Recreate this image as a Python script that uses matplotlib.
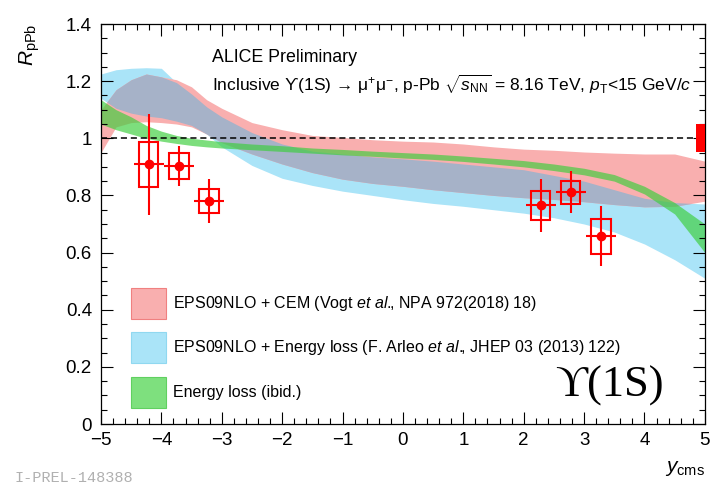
import numpy as np
import matplotlib
matplotlib.use('Agg')
import matplotlib.pyplot as plt
from matplotlib.patches import Rectangle, Patch

plt.rcParams['font.family'] = ['Liberation Sans', 'DejaVu Sans']
plt.rcParams['mathtext.fontset'] = 'custom'
plt.rcParams['mathtext.rm'] = 'Liberation Sans'
plt.rcParams['mathtext.it'] = 'Liberation Sans:italic'
plt.rcParams['mathtext.bf'] = 'Liberation Sans:bold'

# model bands (common rapidity grid)
y_grid = [-5, -4.75, -4.5, -4.25, -4, -3.75, -3.5, -3.25, -3, -2.5, -2, -1.5, -1,
          -0.5, 0, 0.5, 1, 1.5, 2, 2.5, 3, 3.5, 4, 4.5, 5]
cem_hi = [1.10, 1.17, 1.205, 1.225, 1.215, 1.205, 1.18, 1.135, 1.105, 1.055, 1.03, 1.01, 1.003,
          0.995, 0.99, 0.987, 0.98, 0.97, 0.962, 0.958, 0.952, 0.948, 0.945, 0.945, 0.92]
cem_lo = [0.95, 1.04, 1.055, 1.058, 1.055, 1.05, 1.04, 1.015, 0.985, 0.945, 0.91, 0.88, 0.857,
          0.842, 0.832, 0.82, 0.81, 0.80, 0.792, 0.786, 0.778, 0.768, 0.76, 0.762, 0.78]
eloss_eps_hi = [1.225, 1.24, 1.245, 1.247, 1.245, 1.195, 1.155, 1.11, 1.075, 1.02, 0.98, 0.955, 0.945,
                0.935, 0.928, 0.92, 0.91, 0.90, 0.89, 0.87, 0.85, 0.82, 0.79, 0.775, 0.77]
eloss_eps_lo = [1.14, 1.105, 1.088, 1.078, 1.072, 1.06, 1.045, 1.015, 0.97, 0.905, 0.86, 0.835, 0.815,
                0.80, 0.785, 0.772, 0.762, 0.75, 0.738, 0.722, 0.70, 0.672, 0.63, 0.575, 0.51]
eloss_hi = [1.135, 1.10, 1.075, 1.045, 1.025, 1.01, 1.0, 0.994, 0.988, 0.98, 0.974, 0.966, 0.961,
            0.955, 0.95, 0.945, 0.938, 0.93, 0.922, 0.91, 0.895, 0.873, 0.832, 0.775, 0.70]
eloss_lo = [1.05, 1.03, 1.015, 1.0, 0.99, 0.982, 0.975, 0.97, 0.966, 0.96, 0.954, 0.948, 0.942,
            0.937, 0.931, 0.926, 0.919, 0.91, 0.90, 0.887, 0.872, 0.85, 0.805, 0.735, 0.60]

# ALICE data
y_cms = [-4.21, -3.71, -3.21, 2.28, 2.78, 3.28]
y_halfwidth = [0.25, 0.25, 0.25, 0.25, 0.25, 0.25]
r_ppb = [0.909, 0.903, 0.780, 0.765, 0.811, 0.657]
stat_err = [0.177, 0.071, 0.076, 0.093, 0.073, 0.105]
syst_err = [0.078, 0.045, 0.043, 0.051, 0.040, 0.061]
global_syst = 0.049

red = '#ff0000'
pink = '#f9afaf'
blue = '#aae4f8'
grey = '#a6b2c8'
green = '#3dce3d'

fig = plt.figure(figsize=(7.11, 4.95), dpi=100)
ax = fig.add_axes([0.142, 0.1434, 0.8494, 0.8081])

x = np.array(y_grid)
ax.fill_between(x, eloss_eps_lo, eloss_eps_hi, color=blue, lw=0)
ax.fill_between(x, cem_lo, cem_hi, color=pink, lw=0)
ov_lo = np.maximum(cem_lo, eloss_eps_lo)
ov_hi = np.minimum(cem_hi, eloss_eps_hi)
ax.fill_between(x, ov_lo, ov_hi, where=ov_hi > ov_lo, interpolate=True, color=grey, lw=0)
ax.fill_between(x, eloss_lo, eloss_hi, color=green, alpha=0.67, lw=0)

ax.axhline(1.0, color='black', ls=(0, (4, 2.5)), lw=1.1)

# systematic boxes
for xc, yv, s in zip(y_cms, r_ppb, syst_err):
    ax.add_patch(Rectangle((xc - 0.16, yv - s), 0.32, 2 * s, fill=False,
                           edgecolor=red, lw=1.5, zorder=4))
ax.errorbar(y_cms, r_ppb, xerr=y_halfwidth, yerr=stat_err, fmt='o', color=red,
            ms=6, lw=1.5, capsize=0, zorder=5)

# global uncertainty
ax.add_patch(Rectangle((5 - 0.154, 1 - global_syst), 0.308, 2 * global_syst,
                       color=red, lw=0, zorder=4))

ax.set_xlim(-5, 5)
ax.set_ylim(0, 1.4)
ax.set_xticks(np.arange(-5, 5.1, 1))
ax.set_xticks(np.arange(-5, 5.01, 0.2), minor=True)
ax.set_yticks(np.arange(0, 1.41, 0.2))
ax.set_yticks(np.arange(0, 1.41, 0.05), minor=True)
ax.set_yticklabels(['0', '0.2', '0.4', '0.6', '0.8', '1', '1.2', '1.4'])
ax.tick_params(which='both', direction='in', top=True, right=True, width=0.8, labelsize=13.5)
ax.tick_params(which='major', length=8.3)
ax.tick_params(which='minor', length=4.3)
ax.tick_params(axis='y', pad=6.5)
ax.tick_params(axis='x', pad=6)
for s in ax.spines.values():
    s.set_linewidth(0.9)

ax.set_ylabel(r'$R_{\mathrm{pPb}}$', fontsize=15, loc='top', va='center')
ax.yaxis.set_label_coords(-0.118, 1.0)
ax.set_xlabel(r'$y_{\mathrm{cms}}$', fontsize=15, loc='right', va='top')
ax.xaxis.set_label_coords(1.0, -0.087)

ax.text(0.184, 0.904, 'ALICE Preliminary', transform=ax.transAxes, fontsize=12.8, va='baseline')
ax.text(0.184, 0.833,
        r'Inclusive ϒ(1S) → μ$^{+}$μ$^{-}$, p-Pb $\sqrt{s_{\mathrm{NN}}}$'
        r' = 8.16 TeV, $p_{\mathrm{T}}$<15 GeV/$c$',
        transform=ax.transAxes, fontsize=12.5, va='baseline')
ax.text(0.752, 0.068, 'ϒ(1S)', transform=ax.transAxes, fontsize=32, va='baseline',
        family=['Liberation Serif', 'DejaVu Serif'])

handles = [Patch(facecolor=pink, edgecolor='#f08080', lw=0.8),
           Patch(facecolor=blue, edgecolor='#90d8f0', lw=0.8),
           Patch(facecolor='#7ee07e', edgecolor='#60d060', lw=0.8)]
labels = [r'EPS09NLO + CEM (Vogt $et$ $al.\!\!$, NPA 972(2018) 18)',
          r'EPS09NLO + Energy loss (F. Arleo $et$ $al.\!\!$, JHEP 03 (2013) 122)',
          'Energy loss (ibid.)']
ax.legend(handles, labels, loc='upper left', bbox_to_anchor=(0.0497, 0.341), frameon=False,
          fontsize=11.5, handlelength=2.19, handleheight=2.61, handletextpad=0.44,
          labelspacing=0.845, borderpad=0, borderaxespad=0)

fig.text(0.021, 0.034, 'I-PREL-148388', family='Liberation Mono', fontsize=11,
         color='#b0b0b0', va='center')

fig.savefig('out.png', dpi=100)
